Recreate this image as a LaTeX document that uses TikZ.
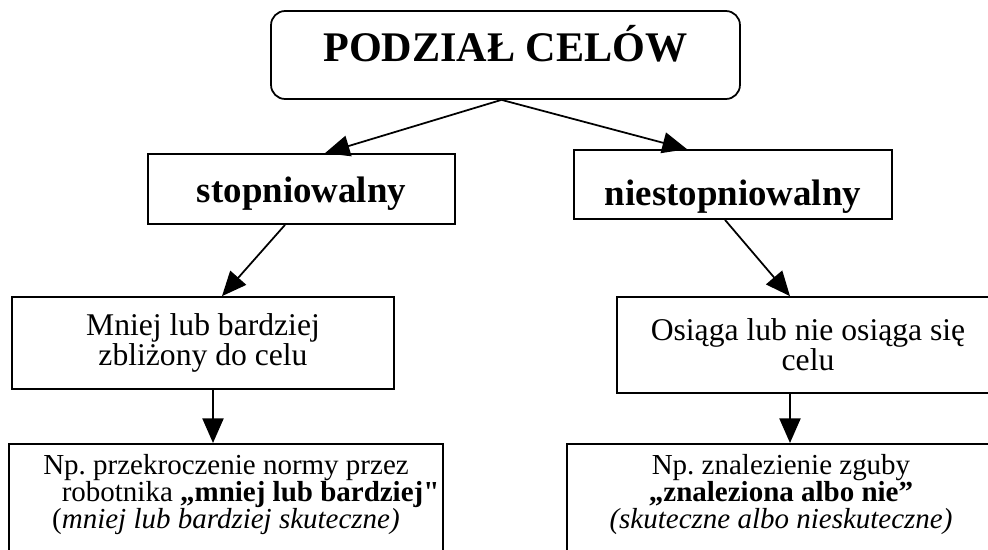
\documentclass[tikz,border=0pt]{standalone}
\usepackage{fontspec}
\setmainfont{Liberation Serif}
\usetikzlibrary{arrows.meta}
\newcommand{\straightquote}{{\addfontfeatures{Ligatures=TeXOff}"}}

\begin{document}
\frenchspacing
\begin{tikzpicture}[x=0.02cm, y=-0.02cm,
    box/.style={draw, line width=1pt, inner sep=0pt, align=center},
    titlebox/.style={box, rounded corners=8pt, text height=0.75em, text depth=0.05em,
      font=\bfseries\fontsize{24}{28}\selectfont},
    kind/.style={box, text depth=0pt, font=\bfseries\fontsize{21}{25}\selectfont},
    desc/.style={box, font=\fontsize{18}{17}\selectfont},
    example/.style={box, anchor=north, inner ysep=0.2cm, text depth=2.2cm,
      font=\fontsize{16.5}{15.5}\selectfont},
    arr/.style={-{Triangle[length=14pt,width=12pt]}, line width=1pt}]
  \useasboundingbox (0,0) rectangle (988,549);

  % Title
  \node[titlebox, minimum width=9.38cm, minimum height=1.76cm] (title) at (505.5,55) {PODZIAŁ CELÓW};

  % Two kinds of goals
  \node[kind, minimum width=6.14cm, minimum height=1.4cm, text height=0.52cm] (stop) at (301.5,189) {stopniowalny};
  \node[kind, minimum width=6.36cm, minimum height=1.38cm, text height=0.82cm] (niestop) at (733,184.5) {niestopniowalny};

  % What they mean
  \node[desc, minimum width=7.64cm, minimum height=1.84cm] (mniej) at (203,343) {Mniej lub bardziej\\ zbliżony do celu};
  \node[desc, minimum width=7.64cm, minimum height=1.92cm] (osiaga) at (808,345) {Osiąga lub nie osiąga się\\ celu};

  % Examples (cut by the page bottom)
  \node[example, minimum width=8.68cm] (ex1) at (226,443) {Np. przekroczenie normy przez\\
    \hspace*{28pt}robotnika \textbf{,,mniej lub bardziej\straightquote}\\
    (\textit{mniej lub bardziej skuteczne)}};
  \node[example, minimum width=8.56cm] (ex2) at (781,443) {Np. znalezienie zguby\\
    \textbf{,,znaleziona albo nie''}\\
    \textit{(skuteczne albo nieskuteczne)}};

  % Arrows
  \draw[arr] ([xshift=-0.08cm]title.south) -- ([xshift=0.47cm]stop.north);
  \draw[arr] ([xshift=-0.08cm]title.south) -- ([xshift=-0.92cm]niestop.north);
  \draw[arr] ([xshift=-0.33cm]stop.south) -- ([xshift=0.38cm]mniej.north);
  \draw[arr] ([xshift=-0.16cm]niestop.south) -- ([xshift=-0.36cm]osiaga.north);
  \draw[arr] ([xshift=0.2cm]mniej.south) -- ([xshift=-0.26cm]ex1.north);
  \draw[arr] ([xshift=-0.36cm]osiaga.south) -- ([xshift=0.18cm]ex2.north);
\end{tikzpicture}
\end{document}
